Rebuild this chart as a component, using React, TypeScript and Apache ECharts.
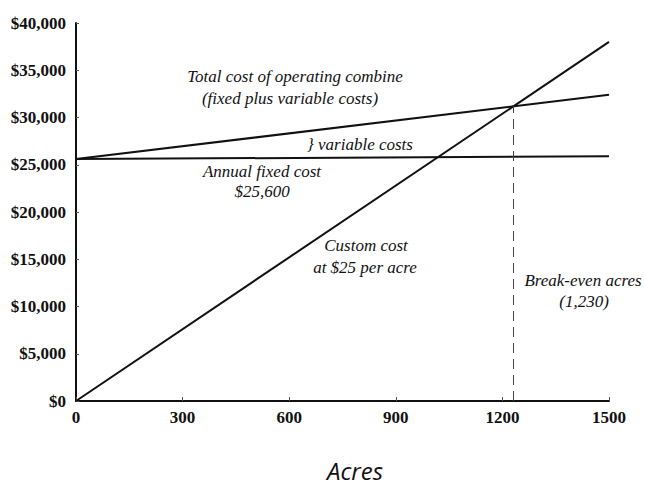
import React, { useEffect, useRef } from "react";
import * as echarts from "echarts";

const xTicks = [0, 300, 600, 900, 1200, 1500];
const yTicks = [0, 5000, 10000, 15000, 20000, 25000, 30000, 35000, 40000];
const acres = [0, 1500];
const totalCost = [25600, 32400];
const fixedCost = [25600, 25900];
const customCost = [0, 38000];
const breakEvenAcres = 1230;
const breakEvenCost = 31200;

const serif = "'Liberation Serif', 'Times New Roman', serif";
const ink = "#111";

export default function App() {
  const ref = useRef<HTMLDivElement>(null);
  useEffect(() => {
    document.body.style.margin = "0";
    if (!ref.current) return;
    const chart = echarts.init(ref.current, null, { renderer: "svg" });
    const mk = (name: string, vals: number[]) => ({
      name,
      type: "line",
      data: acres.map((a, i) => [a, vals[i]]),
      symbol: "none",
      lineStyle: { color: ink, width: 2 },
      z: 3,
    });
    const annot = (text: string, x: number, y: number, align = "center") => ({
      type: "text",
      x,
      y,
      style: {
        text,
        fill: ink,
        font: `italic 17px ${serif}`,
        textAlign: align,
        textVerticalAlign: "middle",
      },
    });
    chart.setOption({
      animation: false,
      backgroundColor: "#fff",
      grid: { left: 76, right: 36, top: 23, bottom: 84 },
      xAxis: {
        type: "value",
        min: 0,
        max: 1500,
        interval: 300,
        axisLine: { lineStyle: { color: ink, width: 2 } },
        axisTick: { inside: true, length: 4, lineStyle: { color: "#555", width: 1 } },
        splitLine: { show: false },
        axisLabel: {
          color: ink,
          fontFamily: serif,
          fontWeight: "bold",
          fontSize: 17,
          margin: 8,
          formatter: (v: number) => (xTicks.includes(v) ? String(v) : ""),
        },
      },
      yAxis: {
        type: "value",
        min: 0,
        max: 40000,
        interval: 5000,
        axisLine: { show: true, lineStyle: { color: ink, width: 2 } },
        axisTick: { show: true, inside: true, length: 3, lineStyle: { color: "#555", width: 1 } },
        splitLine: { show: false },
        axisLabel: {
          color: ink,
          fontFamily: serif,
          fontWeight: "bold",
          fontSize: 17,
          margin: 10,
          formatter: (v: number) =>
            yTicks.includes(v) ? "$" + v.toLocaleString("en-US") : "",
        },
      },
      series: [
        mk("Total cost", totalCost),
        mk("Fixed cost", fixedCost),
        {
          ...mk("Custom cost", customCost),
          markLine: {
            silent: true,
            symbol: "none",
            label: { show: false },
            lineStyle: { color: "#444", width: 1, type: [10, 6] },
            data: [
              [
                { coord: [breakEvenAcres, 0] },
                { coord: [breakEvenAcres, breakEvenCost] },
              ],
            ],
          },
        },
      ],
      graphic: [
        annot("Total cost of operating combine", 295, 76),
        annot("(fixed plus variable costs)", 290, 98),
        annot("} variable costs", 307, 144, "left"),
        annot("Annual fixed cost", 262, 171),
        annot("$25,600", 262, 191),
        annot("Custom cost", 366, 245),
        annot("at $25 per acre", 365, 267),
        annot("Break-even acres", 583, 280),
        annot("(1,230)", 584, 301),
        {
          type: "text",
          x: 355,
          y: 470,
          style: {
            text: "Acres",
            fill: ink,
            font: "italic 24px 'Open Sans', sans-serif",
            textAlign: "center",
            textVerticalAlign: "middle",
          },
        },
      ],
    });
    return () => chart.dispose();
  }, []);
  return <div ref={ref} style={{ width: 645, height: 485 }} />;
}
